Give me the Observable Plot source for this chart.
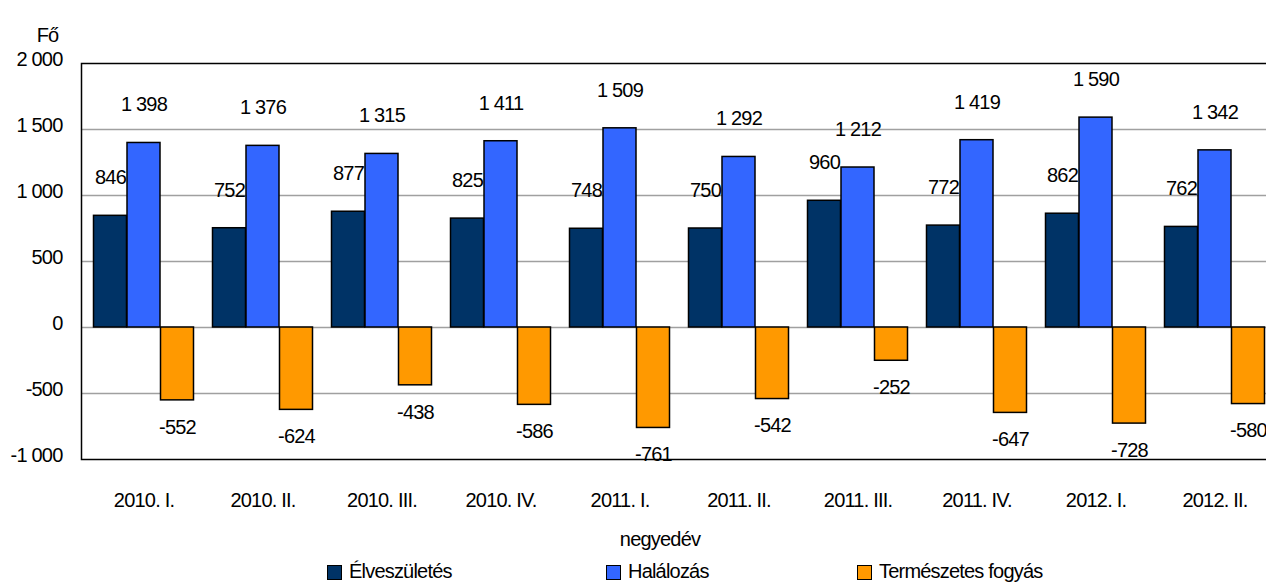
<!DOCTYPE html>
<html>
<head>
<meta charset="utf-8">
<script src="https://cdn.jsdelivr.net/npm/d3@7"></script>
<script src="https://cdn.jsdelivr.net/npm/@observablehq/plot@0.6"></script>
<style>
  html, body { margin: 0; padding: 0; background: white; overflow: hidden; }
  #wrap { position: relative; width: 1266px; height: 584px; overflow: hidden; font-family: "Liberation Sans", Arial, sans-serif; letter-spacing: -0.8px; }
  .lab { position: absolute; font-size: 20px; line-height: 16px; color: black; white-space: nowrap; }
  .sw { position: absolute; width: 13px; height: 13px; border: 1.5px solid black; }
</style>
</head>
<body>
<div id="wrap"></div>
<script>
const quarters = ["2010. I.", "2010. II.", "2010. III.", "2010. IV.", "2011. I.", "2011. II.", "2011. III.", "2011. IV.", "2012. I.", "2012. II."];
const births   = [846, 752, 877, 825, 748, 750, 960, 772, 862, 762];
const deaths   = [1398, 1376, 1315, 1411, 1509, 1292, 1212, 1419, 1590, 1342];
const decrease = [-552, -624, -438, -586, -761, -542, -252, -647, -728, -580];
const seriesNames = ["Élveszületés", "Halálozás", "Természetes fogyás"];
const seriesColors = ["#003366", "#3366ff", "#ff9900"];
const yTicks = [-1000, -500, 0, 500, 1000, 1500, 2000];
const yLabel = "Fő";
const xLabel = "negyedév";

const FS = 20;
const FONT = `"Liberation Sans", Arial, sans-serif`;

const loc = d3.formatLocale({decimal: ",", thousands: "\u00a0", grouping: [3], currency: ["", ""], minus: "-"});
const fmt = loc.format(",d");

const seriesValues = [births, deaths, decrease];
// band = 119.5px; three bars of 33.5px centred in each band
const insets = [[9.5, 76.5], [43, 43], [76.5, 9.5]];
const dxs = [-33.5, 0, 33.5];

const marks = [
  Plot.ruleY(yTicks.filter(t => t > -1000 && t < 2000), {stroke: "#a0a0a0", strokeWidth: 1.5}),
];
seriesValues.forEach((vals, s) => {
  marks.push(Plot.barY(quarters, {
    x: d => d, y: (d, i) => vals[i],
    fill: seriesColors[s], stroke: "black", strokeWidth: 1.5,
    insetLeft: insets[s][0], insetRight: insets[s][1]
  }));
});
seriesValues.forEach((vals, s) => {
  const neg = vals[0] < 0;
  marks.push(Plot.text(quarters, {
    x: d => d, y: (d, i) => vals[i], text: (d, i) => fmt(vals[i]),
    dx: dxs[s], dy: neg ? 27 : -38, fontSize: FS, fill: "black"
  }));
});
marks.push(
  Plot.frame({stroke: "black", strokeWidth: 1.5}),
  Plot.axisY(yTicks, {tickSize: 0, tickPadding: 19, dy: -4, tickFormat: fmt, label: null, fontSize: FS}),
  Plot.axisX({tickSize: 0, tickPadding: 33, label: null, fontSize: FS}),
  Plot.text([yLabel], {frameAnchor: "top-left", textAnchor: "middle", dx: -34, dy: -36, fontSize: FS, fill: "black"})
);

const chart = Plot.plot({
  width: 1276,
  height: 515,
  marginLeft: 81,
  marginRight: 0,
  marginTop: 63,
  marginBottom: 56,
  style: {fontFamily: FONT, fontSize: FS + "px", letterSpacing: "-0.8px", background: "white", color: "black", maxWidth: "none", overflow: "visible"},
  x: {domain: quarters, paddingInner: 0, paddingOuter: 0, label: null},
  y: {domain: [-1000, 2000], label: null},
  marks
});

const wrap = document.getElementById("wrap");
chart.style.position = "absolute";
chart.style.left = "0px";
chart.style.top = "0px";
wrap.appendChild(chart);

const xl = document.createElement("div");
xl.className = "lab";
xl.textContent = xLabel;
xl.style.left = "660px";
xl.style.top = "531px";
xl.style.transform = "translateX(-50%)";
wrap.appendChild(xl);

const legendX = [327, 606, 857];
seriesNames.forEach((name, i) => {
  const sw = document.createElement("div");
  sw.className = "sw";
  sw.style.left = legendX[i] + "px";
  sw.style.top = "565px";
  sw.style.background = seriesColors[i];
  wrap.appendChild(sw);
  const t = document.createElement("div");
  t.className = "lab";
  t.textContent = name;
  t.style.left = (legendX[i] + 22) + "px";
  t.style.top = "563px";
  wrap.appendChild(t);
});
</script>
</body>
</html>
